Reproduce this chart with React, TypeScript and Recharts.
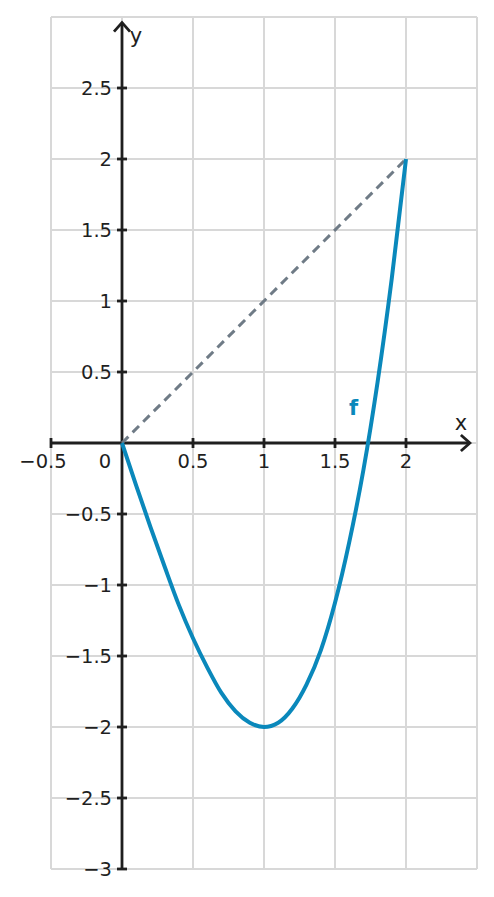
import {
  CartesianGrid,
  Line,
  LineChart,
  ReferenceDot,
  ReferenceLine,
  XAxis,
  YAxis,
} from 'recharts'

// f, x step 0.1
const F_X = [0, 0.1, 0.2, 0.3, 0.4, 0.5, 0.6, 0.7, 0.8, 0.9, 1, 1.1, 1.2, 1.3, 1.4, 1.5, 1.6, 1.7, 1.8, 1.9, 2]
const F_Y = [0, -0.3, -0.59, -0.87, -1.14, -1.375, -1.58, -1.76, -1.89, -1.97, -2, -1.97, -1.87, -1.7, -1.46, -1.125, -0.7, -0.19, 0.43, 1.16, 2]

// dashed secant
const SECANT_X = [0, 2]
const SECANT_Y = [0, 2]

const X_GRID = [-0.5, 0, 0.5, 1, 1.5, 2, 2.5]
const Y_GRID = [-3, -2.5, -2, -1.5, -1, -0.5, 0, 0.5, 1, 1.5, 2, 2.5]
const X_TICKS = [-0.5, 0.5, 1, 1.5, 2]
const Y_TICKS = [2.5, 2, 1.5, 1, 0.5, -0.5, -1, -1.5, -2, -2.5, -3]

const X_MIN = -0.5
const X_ARROW = 2.45
const Y_MIN = -3
const Y_ARROW = 2.96

const AXIS = '#1f1f1f'
const BLUE = '#0a88bb'
const GRAY = '#6f7b86'
const FONT = 'DejaVu Sans, sans-serif'
const FS = 19.5

const fData = F_X.map((x, i) => ({ x, f: F_Y[i] }))
const secData = SECANT_X.map((x, i) => ({ x, s: SECANT_Y[i] }))

const fmt = (v: number) => (v < 0 ? '\u2212' + String(-v) : String(v))

function XTick({ cx, cy, v }: any) {
  return (
    <g>
      <line x1={cx} x2={cx} y1={cy - 5} y2={cy + 5} stroke={AXIS} strokeWidth={2.8} />
      <text x={v < 0 ? cx - 8 : cx} y={cy + 25} textAnchor="middle" fontSize={FS} fontFamily={FONT} fill={AXIS}>
        {fmt(v)}
      </text>
    </g>
  )
}

function YTick({ cx, cy, v }: any) {
  return (
    <g>
      <line x1={cx - 5} x2={cx + 5} y1={cy} y2={cy} stroke={AXIS} strokeWidth={2.8} />
      <text x={cx - 10} y={cy + 7} textAnchor="end" fontSize={FS} fontFamily={FONT} fill={AXIS}>
        {fmt(v)}
      </text>
    </g>
  )
}

export default function App() {
  return (
    <LineChart width={480} height={880} margin={{ top: 9, right: 11, bottom: 19, left: 43 }}>
      <CartesianGrid stroke="#d8d8d8" strokeWidth={2} />
      <XAxis type="number" dataKey="x" domain={[-0.5, 2.5]} ticks={X_GRID} hide allowDataOverflow />
      <YAxis type="number" domain={[-3, 3]} ticks={Y_GRID} hide allowDataOverflow />

      <ReferenceLine segment={[{ x: X_MIN, y: 0 }, { x: X_ARROW, y: 0 }]} stroke={AXIS} strokeWidth={2.8} />
      <ReferenceLine segment={[{ x: 0, y: Y_MIN }, { x: 0, y: Y_ARROW }]} stroke={AXIS} strokeWidth={2.8} />

      {X_TICKS.map((v) => (
        <ReferenceDot key={'x' + v} x={v} y={0} shape={(p: any) => <XTick cx={p.cx} cy={p.cy} v={v} />} />
      ))}
      {Y_TICKS.map((v) => (
        <ReferenceDot key={'y' + v} x={0} y={v} shape={(p: any) => <YTick cx={p.cx} cy={p.cy} v={v} />} />
      ))}
      <ReferenceDot
        x={0}
        y={0}
        shape={(p: any) => (
          <text x={p.cx - 17} y={p.cy + 25} textAnchor="middle" fontSize={FS} fontFamily={FONT} fill={AXIS}>
            0
          </text>
        )}
      />
      <ReferenceDot
        x={X_ARROW}
        y={0}
        shape={(p: any) => (
          <g>
            <path
              d={`M${p.cx - 9},${p.cy - 8} L${p.cx},${p.cy} L${p.cx - 9},${p.cy + 8}`}
              fill="none"
              stroke={AXIS}
              strokeWidth={2.8}
            />
            <text x={p.cx - 9} y={p.cy - 13} textAnchor="middle" fontSize={21} fontFamily={FONT} fill={AXIS}>
              x
            </text>
          </g>
        )}
      />
      <ReferenceDot
        x={0}
        y={Y_ARROW}
        shape={(p: any) => (
          <g>
            <path
              d={`M${p.cx - 8},${p.cy + 9} L${p.cx},${p.cy} L${p.cx + 8},${p.cy + 9}`}
              fill="none"
              stroke={AXIS}
              strokeWidth={2.8}
            />
            <text x={p.cx + 14} y={p.cy + 20} textAnchor="middle" fontSize={21} fontFamily={FONT} fill={AXIS}>
              y
            </text>
          </g>
        )}
      />

      <Line
        data={secData}
        dataKey="s"
        type="linear"
        stroke={GRAY}
        strokeWidth={3}
        strokeDasharray="9 6"
        dot={false}
        isAnimationActive={false}
      />
      <Line
        data={fData}
        dataKey="f"
        type="monotone"
        stroke={BLUE}
        strokeWidth={4}
        dot={false}
        isAnimationActive={false}
      />

      <ReferenceDot
        x={1.63}
        y={0.25}
        shape={(p: any) => (
          <text x={p.cx} y={p.cy + 7} textAnchor="middle" fontSize={21} fontWeight="bold" fontFamily={FONT} fill={BLUE}>
            f
          </text>
        )}
      />
    </LineChart>
  )
}
